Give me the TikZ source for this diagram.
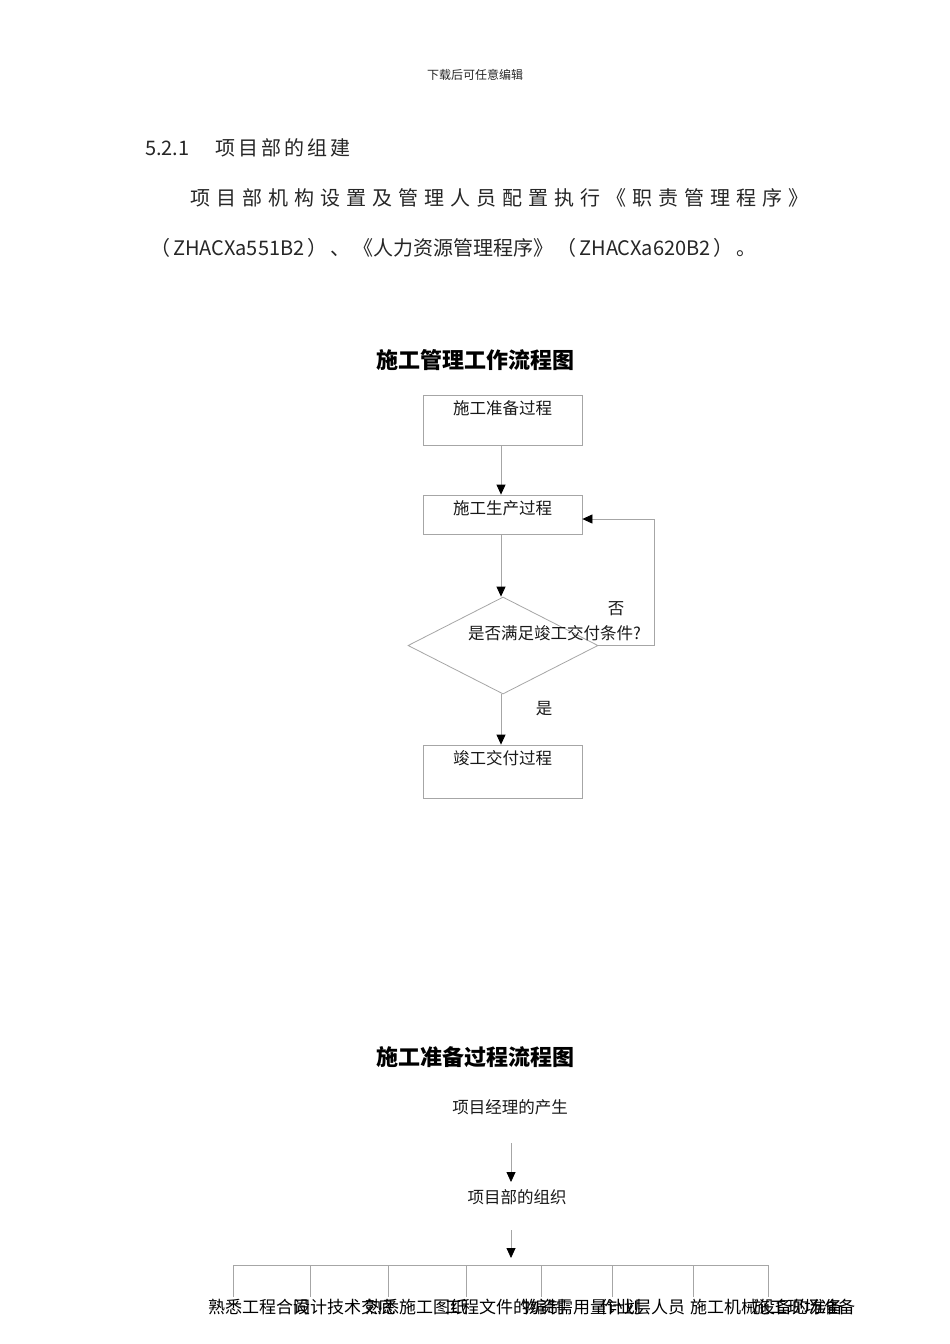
\documentclass[tikz,border=0pt]{standalone}
\usepackage{fontspec}
\setmainfont{Noto Sans CJK SC}
\usetikzlibrary{arrows.meta,shapes.geometric}
\tikzset{
  ln/.style={draw=black!35, line width=0.8pt},
  arr/.style={ln, -{Triangle[width=9pt,length=10pt,black]}},
  boxnode/.style={ln, rectangle, inner sep=0pt},
  txt/.style={inner sep=0pt, text=black!90, font=\fontsize{16.5}{16.5}\selectfont},
  btxt/.style={inner sep=0pt, text=black, font=\fontsize{17}{17}\selectfont, anchor=west},
  ttl/.style={inner sep=0pt, font=\fontsize{22}{22}\selectfont\bfseries},
  body/.style={inner sep=0pt, anchor=west, font=\fontsize{20}{20}\selectfont, text=black!85},
}
\begin{document}
\begin{tikzpicture}[x=1pt,y=-1pt]
\useasboundingbox (0,0) rectangle (950,1344);
\fill[white] (0,0) rectangle (950,1344);

% header and paragraph
\node[inner sep=0pt, font=\fontsize{12}{12}\selectfont, text=black!85] (hdr) at (475,75) {下载后可任意编辑};
\node[body] (secnum) at (145,148) {5.2.1};
\node[body] (sectit) at (215,148) {\makebox[132pt][s]{项 目 部 的 组 建}};
\node[body] (para1) at (190,198) {\makebox[618pt][s]{项 目 部 机 构 设 置 及 管 理 人 员 配 置 执 行 《 职 责 管 理 程 序 》}};
\node[body] (para2) at (150,248) {\makebox[585pt][s]{（ ZHACXa551B2 ） 、 《人力资源管理程序》 （ ZHACXa620B2 ） 。}};

% chart 1
\node[ttl] (t1) at (475,360) {施工管理工作流程图};
\node[boxnode, minimum width=159pt, minimum height=50pt] (b1) at (502.5,420) {};
\node[txt] (b1t) at (502.5,408) {施工准备过程};
\node[boxnode, minimum width=159pt, minimum height=39pt] (b2) at (502.5,514.5) {};
\node[txt] (b2t) at (502.5,508) {施工生产过程};
\node[ln, diamond, minimum width=190pt, minimum height=97pt, inner sep=0pt] (dia) at (503,645.5) {};
\node[txt, anchor=west] (diat) at (468,633) {是否满足竣工交付条件?};
\node[boxnode, minimum width=159pt, minimum height=53pt] (b3) at (502.5,771.5) {};
\node[txt] (b3t) at (502.5,758) {竣工交付过程};
\node[txt] (no) at (616,609) {否};
\node[txt] (yes) at (544,709) {是};
\coordinate (fb) at (654,645.5);

\draw[arr] (b1.south -| 501,0) -- (b2.north -| 501,0);
\draw[arr] (b2.south -| 501,0) -- (dia.north -| 501,0);
\draw[arr] (dia.south -| 501,0) -- (b3.north -| 501,0);
\draw[arr] (dia.east) -- (fb) |- ([yshift=-4.5pt]b2.east);

% chart 2
\node[ttl] (t2) at (475,1057) {施工准备过程流程图};
\node[txt] (n1) at (510,1107) {项目经理的产生};
\node[txt] (n2) at (517,1197) {项目部的组织};
\coordinate (barL) at (233,1265);
\coordinate (barR) at (768,1265);
\draw[arr] (511,1143) -- (511,1182);
\draw[arr] (511,1230) -- (511,1258);
\draw[ln] (barL) -- (barR);

\foreach \i/\x in {1/233,2/310,3/388,4/466,5/541,6/612,7/693,8/768}{
  \coordinate (v\i) at (\x,1297);
  \draw[ln] (v\i |- barL) -- (v\i);
}

\node[btxt] (c1) at (208,1307) {熟悉工程合同};
\node[btxt] (c2) at (293,1307) {设计技术交底};
\node[btxt] (c3) at (365,1307) {熟悉施工图纸};
\node[btxt] (c4) at (445,1307) {工程文件的编制};
\node[btxt] (c5) at (522,1307) {物资需用量计划};
\node[btxt] (c6) at (600,1307) {作业层人员};
\node[btxt] (c7) at (690,1307) {施工机械设备的准备};
\node[btxt] (c8) at (753,1307) {施工现场准备};
\end{tikzpicture}
\end{document}
